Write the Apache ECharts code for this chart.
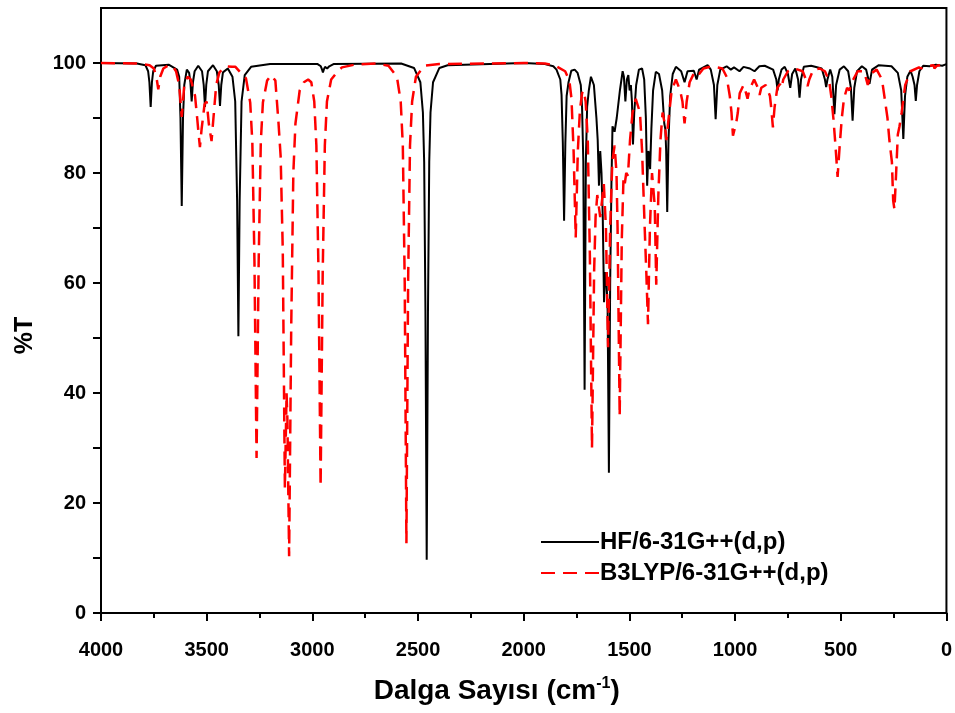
<!DOCTYPE html>
<html>
<head>
<meta charset="utf-8">
<script src="https://cdn.jsdelivr.net/npm/echarts@6/dist/echarts.min.js"></script>
<style>html,body{margin:0;padding:0;background:#fff}#c{width:955px;height:713px}</style>
</head>
<body>
<div id="c"></div>
<script>
// ---- data (wavenumber cm-1, %T) ----
const seriesNames = ['HF/6-31G++(d,p)', 'B3LYP/6-31G++(d,p)'];
const xTickValues = [4000, 3500, 3000, 2500, 2000, 1500, 1000, 500, 0];
const yTickLabels = [0, 20, 40, 60, 80, 100];
const yTickMarks = [0, 10, 20, 30, 40, 50, 60, 70, 80, 90, 100];

const hfSpectrum = [
[4000,100],[3830,99.9],
[3790,99.6],[3777,98.5],[3771,96.5],[3765,92],[3759,96.5],[3753,98.5],[3740,99.5],
[3680,99.7],[3640,98.8],[3630,97.5],[3624,90],[3618,74],[3612,90],[3606,96],
[3594,98.8],[3583,98.2],[3577,96.5],[3571,93],[3565,96.5],[3557,98.5],
[3540,99.5],[3522,98.5],[3514,96],[3508,92],[3502,96],[3494,98.5],
[3470,99.6],[3452,98.5],[3443,96],[3437,92.2],[3431,96],[3423,98.3],
[3400,99],[3378,97.5],[3365,93],[3356,75],[3350,50.3],[3344,75],[3335,93],[3320,97.8],[3290,99.3],[3200,99.8],
[2975,99.8],[2960,99.4],[2954,98.8],[2950,98.3],[2946,98.8],[2940,99.3],[2930,99],[2926,98.8],[2920,99.4],[2900,99.8],
[2580,99.9],[2519,99.1],[2489,96.5],[2477,91],[2471,82],[2465,55],[2459,9.7],[2453,55],[2447,82],[2441,91],[2429,96.5],[2399,99.1],[2360,99.6],
[2000,100],[1900,99.8],[1860,99.4],
[1845,98.8],[1827,97],[1821,94.2],[1815,85.5],[1809,71.3],[1803,85.5],[1797,94],[1788,96.5],
[1775,98.6],[1759,98.8],[1745,98.2],[1730,96],[1724,92],[1718,82],[1712,40.6],[1706,82],[1700,92],[1692,95],
[1682,97.5],[1668,96],[1656,90],[1650,86],[1644,77.7],[1638,84],[1632,80],[1626,72],[1620,56.5],[1614,62],[1608,60],
[1603,55],[1597,25.5],[1591,60],[1585,78],[1580,88.5],[1570,87.5],[1560,90],[1545,95],[1532,98.5],
[1526,97.5],[1519,93],[1512,97],[1505,97.8],[1499,95],[1493,96],[1488,93],[1483,85.2],[1477,91],[1468,96],[1455,98.8],[1440,99],
[1430,97],[1422,90],[1416,77.7],[1410,84],[1406,83],[1402,80.7],[1396,88],[1388,95],[1375,98.4],[1360,98],
[1345,95],[1335,89],[1330,88],[1326,84],[1321,72.9],[1315,86],[1307,94],[1295,98],[1280,99.3],
[1255,98.5],[1239,96.5],[1225,98.5],[1195,98.6],[1182,97],[1170,98.8],[1130,99.6],
[1115,98.8],[1100,96],[1092,89.8],[1084,96],[1070,98.8],[1040,99.4],[1020,98.8],[1005,99.2],[979,98.5],[960,99.3],[930,99],[908,98.5],[885,99.4],[860,99.5],
[820,98.8],[805,97],[799,95],[793,97],[780,98.8],[765,99.3],[750,98],[739,95.5],[730,98],[715,99],[702,97],[695,93.7],[688,97],[675,99.3],[640,99.5],
[590,99],[575,97],[569,95.6],[563,97],[550,98.8],[540,97.5],[530,90.7],[522,96],[505,98.8],[485,99.4],
[465,98.5],[452,95.5],[444,89.5],[436,95.5],[423,98.5],[400,99.4],
[380,98.8],[364,96.2],[352,98.8],[320,99.6],[260,99.4],
[230,98.2],[214,95],[204,86.2],[196,94],[185,97.5],[170,98.6],[160,97.5],[151,96],[145,93.1],[139,96],[128,98.5],[110,99.5],[80,99.4],[50,99.7],[20,99.5],[0,99.8]
];

const b3lypSpectrum = [
[4000,100],[3830,99.9],
[3770,99.6],[3750,99],[3738,97.5],[3729,95.2],[3720,97.5],[3705,99],[3680,99.6],[3660,99.4],
[3645,98.5],[3630,96],[3618,90.2],[3606,96],[3590,97.5],[3575,97],[3555,94],[3545,90],[3538,87],[3532,84.7],[3524,88],[3510,92.5],[3500,93],[3490,89],[3477,85.8],[3468,90],[3455,96],[3440,98.3],[3410,99.4],[3380,99.3],
[3364,99.3],[3314,97.2],[3294,92.8],[3284,85.6],[3274,64],[3264,28.2],[3254,64],[3244,85.6],[3234,92.8],[3214,96.8],[3195,97.8],[3175,96.8],
[3160,89],[3150,83],[3140,66],[3130,22.7],[3122,40],[3118,35],[3110,10.3],[3100,52],[3090,80],[3080,89],[3060,95],[3040,96.5],[3020,97],[3005,96.5],
[2991,93],[2981,85],[2971,62],[2961,23],[2951,62],[2941,85],[2931,93],[2911,97],[2880,98.5],[2860,99.2],[2800,99.7],[2700,99.9],
[2640,99.5],[2600,97.5],[2582,93],[2572,85],[2563,60],[2555,12.7],[2547,60],[2538,85],[2528,93],[2510,97.5],[2470,99.5],[2400,99.8],[2000,100],[1900,99.9],
[1854,99.6],[1804,98.5],[1784,96.8],[1774,93.5],[1764,84],[1754,68.3],[1744,84],[1734,91.5],[1724,94.5],[1716,95],[1707,93],[1697,86],[1687,65],[1677,30],[1667,62],[1660,72],
[1652,76],[1645,74],[1638,72],[1621,78],[1611,70],[1601,48.3],[1591,70],[1581,82],[1570,85],[1561,80],[1556,70],[1546,35.8],[1536,68],[1528,79],[1522,78],[1515,80],[1507,79.5],[1497,86],[1485,91],[1470,93.5],[1461,93.8],
[1450,91],[1440,84],[1428,70.4],[1420,62],[1412,52.5],[1403,70],[1393,80],[1386,80],[1380,74],[1373,59.7],[1363,76],[1353,86],[1343,91],[1333,89],[1325,86],[1317,89],[1300,95],[1280,97],
[1260,95],[1249,93],[1239,89],[1229,93],[1215,96.5],[1190,98.5],[1170,98],[1150,99],[1110,99.4],[1060,99],
[1040,97.5],[1025,94],[1017,91],[1010,86.8],[1002,88],[995,89],[987,91],[978,94.5],[960,96],[948,94.5],[941,93.5],[933,95],[910,97],[892,95.5],[884,94.2],[876,95.5],[855,96],
[835,94],[828,91.5],[821,88.3],[813,92],[800,95.5],[787,96.2],[780,95.5],[772,97],[750,98.5],[720,99],[680,98.5],[665,97],[657,95.8],[649,97],[630,98.8],[600,99],
[575,98.5],[555,96.8],[545,94],[535,90],[525,85],[515,79.3],[505,85],[495,90],[485,93.5],[470,95.5],[459,95],[448,96.5],[420,98.5],[390,98.5],[372,96],[360,98],[330,98.8],
[305,97],[290,93],[279,90],[270,86],[258,82],[252,75],[246,73.4],[238,80],[230,87],[222,88.5],[212,91],[195,96],[170,98.5],[130,99.2],[120,99],[100,99.4],[60,99.6],[57,99],[45,99.5],[0,99.8]
];

// ---- chart ----
const FONT = '"Liberation Sans", Arial, sans-serif';
const chart = echarts.init(document.getElementById('c'), null, {renderer: 'canvas'});
chart.setOption({
  animation: false,
  backgroundColor: '#fff',
  grid: {left: 101, right: 8, top: 8, bottom: 100, show: true, borderColor: '#000', borderWidth: 2, backgroundColor: 'transparent'},
  legend: {
    orient: 'vertical', left: 535, top: 525,
    itemWidth: 58, itemHeight: 14, itemGap: 7,
    data: seriesNames,
    itemStyle: {opacity: 0},
    textStyle: {fontFamily: FONT, fontWeight: 'bold', fontSize: 24, color: '#000', padding: [0, 0, 0, -4]}
  },
  xAxis: {
    type: 'value', inverse: true, min: 0, max: 4000, interval: 500,
    name: 'Dalga Sayısı (cm{sup|-1})', nameLocation: 'middle', nameGap: 63,
    nameTextStyle: {fontFamily: FONT, fontWeight: 'bold', fontSize: 28, color: '#000', padding: [0, 54, 0, 0],
      rich: {sup: {fontFamily: FONT, fontWeight: 'bold', fontSize: 16, color: '#000', verticalAlign: 'top', padding: [0, 0, 14, 0]}}},
    axisLine: {onZero: false, lineStyle: {color: '#000', width: 2}},
    axisTick: {show: true, length: 8, inside: false, lineStyle: {color: '#000', width: 2}},
    minorTick: {show: true, splitNumber: 2, length: 5, lineStyle: {color: '#000', width: 2}},
    axisLabel: {fontFamily: FONT, fontWeight: 'bold', fontSize: 20, color: '#000', margin: 27,
      customValues: xTickValues, formatter: v => String(v)},
    splitLine: {show: false}
  },
  yAxis: {
    type: 'value', min: 0, max: 110,
    name: '%T', nameLocation: 'middle', nameGap: 63, nameRotate: 90,
    nameTextStyle: {fontFamily: FONT, fontWeight: 'bold', fontSize: 25, color: '#000', padding: [0, 50, 0, 0]},
    axisLine: {onZero: false, lineStyle: {color: '#000', width: 2}},
    axisTick: {show: true, length: 8, inside: false, customValues: yTickMarks, lineStyle: {color: '#000', width: 2}},
    axisLabel: {fontFamily: FONT, fontWeight: 'bold', fontSize: 20, color: '#000', margin: 15,
      customValues: yTickLabels, formatter: v => String(v)},
    splitLine: {show: false}
  },
  series: [
    {name: seriesNames[0], type: 'line', data: hfSpectrum, showSymbol: false, symbol: 'none',
     lineStyle: {color: '#000', width: 2}, itemStyle: {color: '#000'}, z: 2},
    {name: seriesNames[1], type: 'line', data: b3lypSpectrum, showSymbol: false, symbol: 'none',
     lineStyle: {color: '#ff0000', width: 2.5, type: [14, 8]}, itemStyle: {color: '#ff0000'}, z: 3}
  ]
});
</script>
</body>
</html>
